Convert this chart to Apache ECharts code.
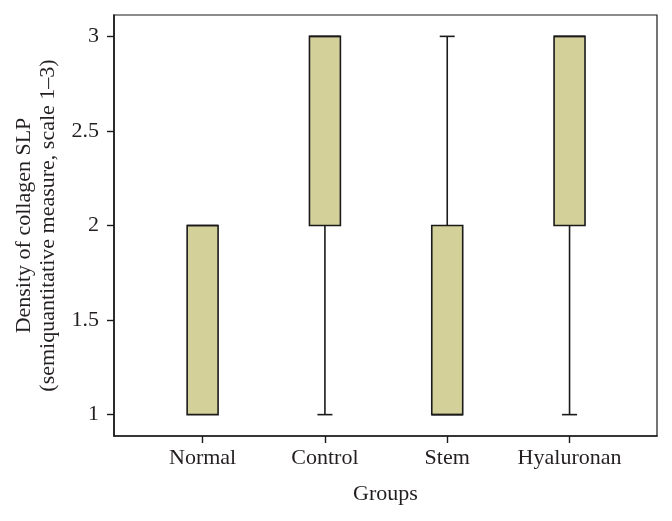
<!DOCTYPE html>
<html>
<head>
<meta charset="utf-8">
<script src="https://cdn.jsdelivr.net/npm/echarts@6/dist/echarts.min.js"></script>
<style>
html,body{margin:0;padding:0;background:#fff;}
#chart{width:672px;height:521px;}
</style>
</head>
<body>
<div id="chart"></div>
<script>
// ---- data ----
const categories = ['Normal', 'Control', 'Stem', 'Hyaluronan'];
const positions = [1, 2, 3, 4];
const mins    = [1, 1, 1, 1];
const q1s     = [1, 2, 1, 2];
const medians = [2, 3, 1, 3];
const q3s     = [2, 3, 2, 3];
const maxs    = [2, 3, 3, 3];
const yTicks  = [1, 1.5, 2, 2.5, 3];

// ---- build ----
const seriesData = positions.map((p, i) => [p, mins[i], q1s[i], medians[i], q3s[i], maxs[i]]);
const FONT = '"Liberation Serif", "Times New Roman", serif';
const TXT = '#231f20';
const STROKE = '#1a1a1a';
const FILL = '#d4d09a';
const BOX_W = 0.253;   // box width in x-axis units
const CAP_PX = 15;

const chart = echarts.init(document.getElementById('chart'), null, {renderer: 'canvas'});
chart.setOption({
  animation: false,
  backgroundColor: '#fff',
  grid: {left: 114, top: 15, right: 15, bottom: 85, show: true, borderColor: STROKE, borderWidth: 1.2, backgroundColor: 'transparent'},
  xAxis: {
    type: 'value', min: 0.2755, max: 4.715,
    name: 'Groups', nameLocation: 'middle', nameGap: 47,
    nameTextStyle: {fontFamily: FONT, fontSize: 22, color: TXT},
    splitLine: {show: false},
    axisLine: {show: true, lineStyle: {color: STROKE, width: 1.6}},
    axisTick: {show: true, length: 7, customValues: positions, lineStyle: {color: STROKE, width: 1.4}},
    axisLabel: {customValues: positions, margin: 11, fontFamily: FONT, fontSize: 22, color: TXT,
      formatter: v => { const i = positions.indexOf(Math.round(v)); return i >= 0 ? categories[i] : ''; }}
  },
  yAxis: {
    type: 'value', min: 0.887, max: 3.113,
    name: 'Density of collagen SLP\n(semiquantitative measure, scale 1–3)',
    nameLocation: 'middle', nameGap: 54, nameRotate: 90,
    nameTextStyle: {fontFamily: FONT, fontSize: 22, color: TXT, lineHeight: 24, align: 'center'},
    splitLine: {show: false},
    axisLine: {show: true, lineStyle: {color: STROKE, width: 1.6}},
    axisTick: {show: true, length: 7, customValues: yTicks, lineStyle: {color: STROKE, width: 1.4}},
    axisLabel: {customValues: yTicks, margin: 15, fontFamily: FONT, fontSize: 22, color: TXT,
      formatter: v => String(v)}
  },
  series: [{
    type: 'custom',
    data: seriesData,
    encode: {x: 0, y: [1, 2, 3, 4, 5]},
    renderItem: function (params, api) {
      const x = api.value(0);
      const vMin = api.value(1), vQ1 = api.value(2), vMed = api.value(3), vQ3 = api.value(4), vMax = api.value(5);
      const pMin = api.coord([x, vMin]);
      const pQ1 = api.coord([x, vQ1]);
      const pMed = api.coord([x, vMed]);
      const pQ3 = api.coord([x, vQ3]);
      const pMax = api.coord([x, vMax]);
      const halfW = api.size([BOX_W, 0])[0] / 2;
      const cx = pQ1[0];
      const lineStyle = {stroke: STROKE, lineWidth: 1.6, fill: null};
      const children = [];
      if (vMax > vQ3) {
        children.push({type: 'line', shape: {x1: cx, y1: pQ3[1], x2: cx, y2: pMax[1]}, style: lineStyle});
        children.push({type: 'line', shape: {x1: cx - CAP_PX / 2, y1: pMax[1], x2: cx + CAP_PX / 2, y2: pMax[1]}, style: lineStyle});
      }
      if (vMin < vQ1) {
        children.push({type: 'line', shape: {x1: cx, y1: pQ1[1], x2: cx, y2: pMin[1]}, style: lineStyle});
        children.push({type: 'line', shape: {x1: cx - CAP_PX / 2, y1: pMin[1], x2: cx + CAP_PX / 2, y2: pMin[1]}, style: lineStyle});
      }
      children.push({type: 'rect', shape: {x: cx - halfW, y: pQ3[1], width: halfW * 2, height: pQ1[1] - pQ3[1]},
        style: {fill: FILL, stroke: STROKE, lineWidth: 1.6}});
      children.push({type: 'line', shape: {x1: cx - halfW, y1: pMed[1], x2: cx + halfW, y2: pMed[1]}, style: lineStyle});
      return {type: 'group', children: children};
    }
  }]
});
</script>
</body>
</html>
